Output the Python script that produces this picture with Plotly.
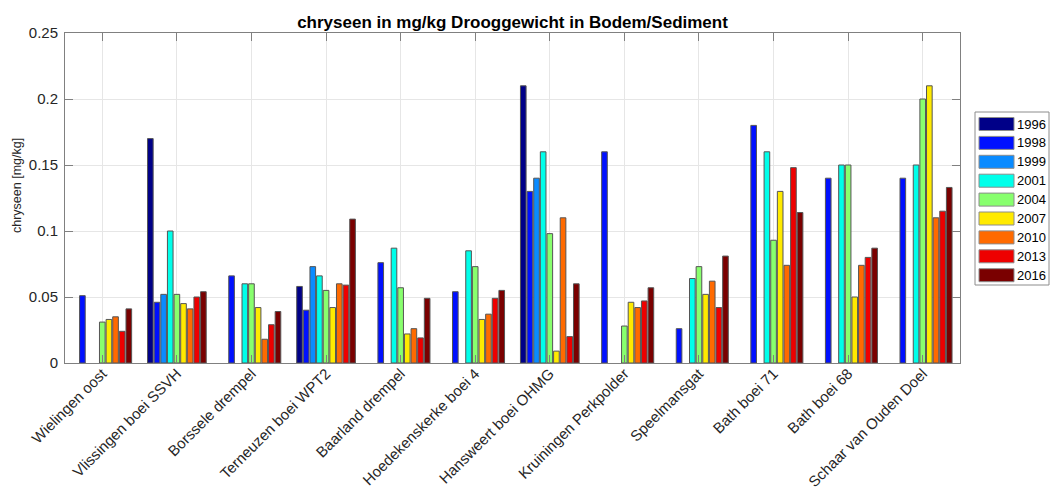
import plotly.graph_objects as go

# Sampling locations along the Westerschelde
locations = [
    "Wielingen oost", "Vlissingen boei SSVH", "Borssele drempel",
    "Terneuzen boei WPT2", "Baarland drempel", "Hoedekenskerke boei 4",
    "Hansweert boei OHMG", "Kruiningen Perkpolder", "Speelmansgat",
    "Bath boei 71", "Bath boei 68", "Schaar van Ouden Doel",
]

years = ["1996", "1998", "1999", "2001", "2004", "2007", "2010", "2013", "2016"]

# chryseen concentration (mg/kg dry weight) per year, one value per location
y1996 = [None, 0.170, None, 0.058, None, None, 0.210, None, None, None, None, None]
y1998 = [0.051, 0.046, 0.066, 0.040, 0.076, 0.054, 0.130, 0.160, 0.026, 0.180, 0.140, 0.140]
y1999 = [None, 0.052, None, 0.073, None, None, 0.140, None, None, None, None, None]
y2001 = [None, 0.100, 0.060, 0.066, 0.087, 0.085, 0.160, None, 0.064, 0.160, 0.150, 0.150]
y2004 = [0.031, 0.052, 0.060, 0.055, 0.057, 0.073, 0.098, 0.028, 0.073, 0.093, 0.150, 0.200]
y2007 = [0.033, 0.045, 0.042, 0.042, 0.022, 0.033, 0.009, 0.046, 0.052, 0.130, 0.050, 0.210]
y2010 = [0.035, 0.041, 0.018, 0.060, 0.026, 0.037, 0.110, 0.042, 0.062, 0.074, 0.074, 0.110]
y2013 = [0.024, 0.050, 0.029, 0.059, 0.019, 0.049, 0.020, 0.047, 0.042, 0.148, 0.080, 0.115]
y2016 = [0.041, 0.054, 0.039, 0.109, 0.049, 0.055, 0.060, 0.057, 0.081, 0.114, 0.087, 0.133]

series = [y1996, y1998, y1999, y2001, y2004, y2007, y2010, y2013, y2016]

# jet-like palette, dark blue through dark red
colors = ["#000088", "#0010FF", "#0A8BFF", "#00FFEA", "#88FF6E",
          "#FFEA00", "#FF6A00", "#EE0000", "#7A0000"]

FONT = "Arial, Liberation Sans, sans-serif"

W, H = 1050, 491
AX_L, AX_R, AX_T, AX_B = 65, 960, 33, 363   # axes box in pixels
AX_W, AX_H = AX_R - AX_L, AX_B - AX_T


def px(x):
    return (x - AX_L) / AX_W


def py(y):
    return (AX_B - y) / AX_H


fig = go.Figure()
positions = list(range(1, len(locations) + 1))
for yr, vals, col in zip(years, series, colors):
    fig.add_trace(go.Bar(
        x=positions, y=vals, name=yr,
        marker=dict(color=col, line=dict(color="#555555", width=1)),
        showlegend=False,
    ))

# Boxed legend with wide colour patches at the right of the axes
shapes = [dict(type="rect", xref="paper", yref="paper",
               x0=px(975), x1=px(1049), y0=py(285), y1=py(112),
               line=dict(color="#8C8C8C", width=1), fillcolor="white")]
annotations = []
row_h = 18.9
for i, (yr, col) in enumerate(zip(years, colors)):
    cy = 124 + i * row_h
    shapes.append(dict(type="rect", xref="paper", yref="paper",
                       x0=px(979), x1=px(1014),
                       y0=py(cy + 6.5), y1=py(cy - 6.5),
                       line=dict(color="#8C8C8C", width=1), fillcolor=col))
    annotations.append(dict(xref="paper", yref="paper",
                            x=px(1016), y=py(cy), xshift=-1,
                            text=yr, showarrow=False, xanchor="left", yanchor="middle",
                            font=dict(family=FONT, size=13, color="black")))

# y-axis label, rotated, left of the tick labels
annotations.append(dict(xref="paper", yref="paper", x=px(17), y=py(186),
                        text="chryseen [mg/kg]", textangle=-90, showarrow=False,
                        xanchor="center", yanchor="middle",
                        font=dict(family=FONT, size=12.5, color="#262626")))

fig.update_layout(
    width=W, height=H,
    margin=dict(l=AX_L, r=W - AX_R, t=AX_T, b=H - AX_B),
    paper_bgcolor="white", plot_bgcolor="white",
    barmode="group", bargap=0.2, bargroupgap=0.15,
    font=dict(family=FONT, size=15, color="#262626"),
    title=dict(text="<b>chryseen in mg/kg Drooggewicht in Bodem/Sediment</b>",
               x=(AX_L + AX_R) / 2 / W, xanchor="center",
               y=1 - 22 / H, yanchor="middle",
               font=dict(family=FONT, size=17, color="black")),
    shapes=shapes, annotations=annotations,
)

fig.update_xaxes(
    range=[0.5, 12.5], tickmode="array", tickvals=positions, ticktext=locations,
    tickangle=-45, tickfont=dict(family=FONT, size=15, color="#262626"),
    automargin=False, ticklabelstandoff=-5,
    showgrid=True, gridcolor="#E6E6E6", gridwidth=1,
    showline=True, linecolor="#808080", linewidth=1, mirror="ticks",
    ticks="inside", ticklen=8, tickcolor="#808080",
    zeroline=False,
)
fig.update_yaxes(
    range=[0, 0.25], tickmode="array",
    tickvals=[0, 0.05, 0.1, 0.15, 0.2, 0.25],
    ticktext=["0", "0.05", "0.1", "0.15", "0.2", "0.25"],
    tickfont=dict(family=FONT, size=15, color="#262626"),
    automargin=False, ticklabelstandoff=3,
    showgrid=True, gridcolor="#E6E6E6", gridwidth=1,
    showline=True, linecolor="#808080", linewidth=1, mirror="ticks",
    ticks="inside", ticklen=8, tickcolor="#808080",
    zeroline=False,
)

fig.write_html("out.html")
